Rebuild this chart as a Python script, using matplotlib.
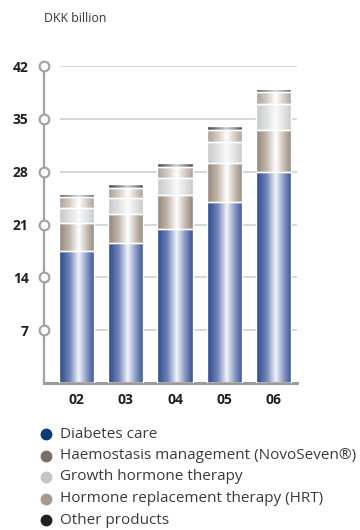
import numpy as np
import matplotlib
matplotlib.use('Agg')
import matplotlib.pyplot as plt
from matplotlib.colors import LinearSegmentedColormap
from matplotlib.lines import Line2D

plt.rcParams['font.family'] = ['Open Sans', 'DejaVu Sans']

years = ['02', '03', '04', '05', '06']
diabetes = [17.5, 18.5, 20.4, 24.0, 27.9]
haemostasis = [3.7, 3.9, 4.5, 5.1, 5.6]
growth = [2.0, 2.1, 2.3, 2.8, 3.4]
hrt = [1.4, 1.4, 1.4, 1.6, 1.6]
other = [0.5, 0.5, 0.5, 0.5, 0.4]
yticks = [7, 14, 21, 28, 35, 42]

labels = ['Diabetes care', 'Haemostasis management (NovoSeven®)',
          'Growth hormone therapy', 'Hormone replacement therapy (HRT)',
          'Other products']
legend_colors = ['#0b3b7f', '#7b6e66', '#c3c5c7', '#a69990', '#231f20']

# gradients (left edge, mid, highlight, mid, right edge)
grads = [
    ['#26468a', '#7385ba', '#f2f4fb', '#7f8fc0', '#34528f'],
    ['#918378', '#c4b8ae', '#ffffff', '#c2b6ad', '#94877d'],
    ['#c6c7c9', '#e0e1e2', '#fbfbfb', '#dfe0e1', '#c8c9cb'],
    ['#ab9e95', '#d6ccc4', '#ffffff', '#d2c8c0', '#ada097'],
    ['#3c3c3e', '#8a8a8c', '#d0d0d0', '#8a8a8c', '#444446'],
]
series = [diabetes, haemostasis, growth, hrt, other]

fig = plt.figure(figsize=(3.6, 5.3), dpi=100)
ax = fig.add_axes([44/360, 1-383/530, (297-44)/360, (383-66)/530])

x = np.arange(len(years))
xlo, xhi = -0.663, 4.48
ax.set_xlim(xlo, xhi)
ax.set_ylim(0, 42)

ax.hlines(yticks, -0.34, xhi, color='#d0d0d0', lw=1.2, zorder=1)

grad = np.linspace(0, 1, 256).reshape(1, -1)
bottom = np.zeros(len(years))
for vals, g in zip(series, grads):
    cmap = LinearSegmentedColormap.from_list('g', list(zip([0, 0.3, 0.55, 0.8, 1], g)))
    bars = ax.bar(x, vals, width=0.714, bottom=bottom, facecolor='none',
                  edgecolor='white', lw=1.0, zorder=3)
    for b in bars:
        x0, y0 = b.get_x(), b.get_y()
        im = ax.imshow(grad, cmap=cmap, aspect='auto', zorder=2,
                       extent=(x0, x0 + b.get_width(), y0, y0 + b.get_height()))
        im.set_clip_path(b)
    bottom += np.array(vals)
ax.set_xlim(xlo, xhi)
ax.set_ylim(0, 42)

for s in ['top', 'right']:
    ax.spines[s].set_visible(False)
ax.spines['left'].set_color('#a3a3a3')
ax.spines['left'].set_linewidth(1.6)
ax.spines['left'].set_bounds(0, 42)
ax.spines['bottom'].set_color('#9a9a9a')
ax.spines['bottom'].set_linewidth(2.2)

ax.plot([xlo] * len(yticks), yticks, 'o', ms=7, mfc='white', mec='#a0a0a0',
        mew=1.5, clip_on=False, zorder=5)

ax.set_yticks(yticks)
ax.set_yticklabels([str(t) for t in yticks], fontsize=10, fontweight='bold', color='#231f20')
ax.set_xticks(x)
ax.set_xticklabels(years, fontsize=10, fontweight='bold', color='#231f20')
ax.tick_params(axis='y', length=0, pad=11)
ax.tick_params(axis='x', length=0, pad=7)

fig.text(44/360, 1-18/530, 'DKK billion', fontsize=8.8, color='#333333', va='center')

for i, (lab, c) in enumerate(zip(labels, legend_colors)):
    yy = 1 - (434 + 21.5 * i) / 530
    fig.add_artist(Line2D([46/360], [yy], marker='o', ms=7.5, color=c, ls='none',
                          transform=fig.transFigure))
    fig.text(60/360, yy, lab, fontsize=11, color='#3a3a3a', va='center')

fig.savefig('out.png', dpi=100)
